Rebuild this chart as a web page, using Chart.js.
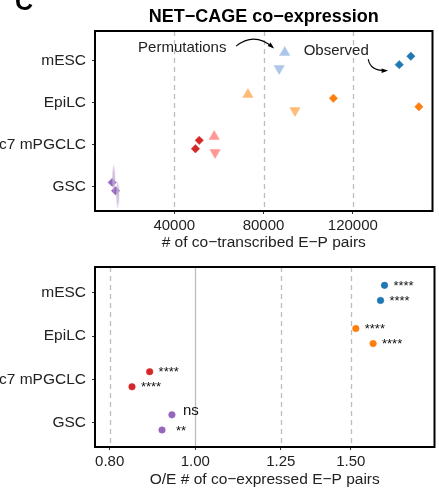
<!DOCTYPE html>
<html lang="en">
<head>
<meta charset="UTF-8">
<title>NET-CAGE co-expression</title>
<script src="https://cdn.jsdelivr.net/npm/chart.js"></script>
<style>
    body {
        margin: 0;
        background: #fff;
        font-family: "Liberation Sans", Arial, sans-serif;
    }
    .panel {
        position: absolute;
        left: 0;
        width: 439px;
    }
    #top { top: 0; height: 250px; }
    #bottom { top: 250px; height: 241px; }
</style>
</head>
<body>
<div class="panel" id="top"><canvas id="countChart"></canvas></div>
<div class="panel" id="bottom"><canvas id="ratioChart"></canvas></div>
<script>
    const categories = ['mESC', 'EpiLC', 'c7 mPGCLC', 'GSC'];
    // co-transcribed pairs, two replicates each
    const observedRep1 = [146000, 111300, 51200, 12200];
    const observedRep2 = [140800, 149600, 49500, 13700];
    const permRep1 = [89500, 73000, 57900, 12900];
    const permRep2 = [87000, 94100, 58300, 14700];
    const countTicks = [40000, 80000, 120000];
    // observed / expected
    const ratioRep1 = [1.638, 1.520, 0.888, 0.941];
    const ratioRep2 = [1.621, 1.590, 0.848, 0.917];
    const sigRep1 = ['****', '****', '****', 'ns'];
    const sigRep2 = ['****', '****', '****', '**'];
    const ratioTicks = [0.80, 1.00, 1.25, 1.50];

    const dark = ['#1f77b4', '#ff7f0e', '#d62728', '#9467bd'];
    const light = ['#aec7e8', '#ffbb78', '#ff9896', '#c5b0d5'];
    const FONT = '"Liberation Sans", Arial, sans-serif';

    Chart.defaults.font.family = FONT;
    Chart.defaults.color = '#222';

    // thin violin used for the GSC permutations
    function makeSpindle(color) {
        const c = document.createElement('canvas');
        c.width = 5; c.height = 28;
        const g = c.getContext('2d');
        g.fillStyle = color;
        g.globalAlpha = 0.8;
        g.beginPath();
        g.moveTo(2.5, 0);
        g.quadraticCurveTo(5.5, 14, 2.5, 28);
        g.quadraticCurveTo(-0.5, 14, 2.5, 0);
        g.fill();
        return c;
    }
    const spindle = makeSpindle(light[3]);

    function rows(values, shift) {
        return values.map((v, i) => ({ x: v, y: i + 1 + shift }));
    }

    function yAxis(min, max) {
        return {
            type: 'linear',
            reverse: true,
            min: min,
            max: max,
            afterBuildTicks: s => { s.ticks = categories.map((c, i) => ({ value: i + 1 })); },
            afterFit: s => { s.width = 95; },
            ticks: { callback: v => categories[v - 1], font: { size: 15.5 }, padding: 6, color: '#222' },
            grid: { drawOnChartArea: false, tickLength: 3, tickColor: '#333' },
            border: { display: false }
        };
    }

    const frame = {
        id: 'frame',
        beforeDatasetsDraw(chart) {
            const { ctx, chartArea: a, scales: { x } } = chart;
            ctx.save();
            ctx.strokeStyle = '#bdbdbd';
            ctx.lineWidth = 1.3;
            x.ticks.forEach(t => {
                const px = Math.round(x.getPixelForValue(t.value)) + 0.5;
                ctx.setLineDash(t.value === 1 ? [] : [5, 4]);
                ctx.beginPath();
                ctx.moveTo(px, a.top);
                ctx.lineTo(px, a.bottom);
                ctx.stroke();
            });
            ctx.restore();
        },
        afterDraw(chart) {
            const { ctx, chartArea: a } = chart;
            ctx.save();
            ctx.strokeStyle = '#000';
            ctx.lineWidth = 2;
            ctx.strokeRect(a.left, a.top, a.right - a.left, a.bottom - a.top);
            ctx.restore();
        }
    };

    function arrow(ctx, p0, c, p1) {
        ctx.beginPath();
        ctx.moveTo(p0[0], p0[1]);
        ctx.quadraticCurveTo(c[0], c[1], p1[0], p1[1]);
        ctx.stroke();
        const ang = Math.atan2(p1[1] - c[1], p1[0] - c[0]);
        ctx.beginPath();
        ctx.moveTo(p1[0] + 2 * Math.cos(ang), p1[1] + 2 * Math.sin(ang));
        ctx.lineTo(p1[0] - 5 * Math.cos(ang - 0.45), p1[1] - 5 * Math.sin(ang - 0.45));
        ctx.lineTo(p1[0] - 5 * Math.cos(ang + 0.45), p1[1] - 5 * Math.sin(ang + 0.45));
        ctx.closePath();
        ctx.fill();
    }

    const notes = {
        id: 'notes',
        afterDraw(chart) {
            const { ctx, chartArea: a, scales: { x, y } } = chart;
            const P = (vx, vy) => [x.getPixelForValue(vx), y.getPixelForValue(vy)];
            ctx.save();
            ctx.fillStyle = '#000';
            ctx.textAlign = 'left';
            ctx.textBaseline = 'alphabetic';
            ctx.font = 'bold 25px ' + FONT;
            ctx.fillText('C', 15, 10);
            ctx.textAlign = 'center';
            ctx.textBaseline = 'middle';
            ctx.font = 'bold 18px ' + FONT;
            ctx.fillText('NET\u2212CAGE co\u2212expression', (a.left + a.right) / 2, 17);
            ctx.font = '15px ' + FONT;
            ctx.fillStyle = '#222';
            let p = P(43600, 0.70);
            ctx.fillText('Permutations', p[0], p[1]);
            p = P(112560, 0.77);
            ctx.fillText('Observed', p[0], p[1]);
            ctx.strokeStyle = '#000';
            ctx.fillStyle = '#000';
            ctx.lineWidth = 1.1;
            arrow(ctx, P(67700, 0.66), P(75880, 0.315), P(84050, 0.684));
            arrow(ctx, P(126900, 0.97), P(127800, 1.254), P(134900, 1.242));
            ctx.restore();
        }
    };

    new Chart(document.getElementById('countChart'), {
        type: 'scatter',
        data: {
            datasets: [
                {
                    label: 'Permutations rep1',
                    data: rows(permRep1, -0.19),
                    pointStyle: c => c.dataIndex === 3 ? spindle : 'triangle',
                    rotation: 0,
                    pointRadius: 6,
                    backgroundColor: light,
                    borderColor: light,
                    borderWidth: 0.5
                },
                {
                    label: 'Permutations rep2',
                    data: rows(permRep2, 0.19),
                    pointStyle: c => c.dataIndex === 3 ? spindle : 'triangle',
                    rotation: 180,
                    pointRadius: 6,
                    backgroundColor: light,
                    borderColor: light,
                    borderWidth: 0.5
                },
                {
                    label: 'Observed rep1',
                    data: rows(observedRep1, -0.1),
                    pointStyle: 'rectRot',
                    pointRadius: 4.2,
                    backgroundColor: dark,
                    borderColor: dark,
                    borderWidth: 0.5
                },
                {
                    label: 'Observed rep2',
                    data: rows(observedRep2, 0.1),
                    pointStyle: 'rectRot',
                    pointRadius: 4.2,
                    backgroundColor: dark,
                    borderColor: dark,
                    borderWidth: 0.5
                }
            ]
        },
        options: {
            responsive: true,
            maintainAspectRatio: false,
            animation: false,
            layout: { padding: { top: 31, right: 2, left: 0, bottom: 0 } },
            plugins: { legend: { display: false }, tooltip: { enabled: false } },
            scales: {
                x: {
                    type: 'linear',
                    min: 4500,
                    max: 155700,
                    afterBuildTicks: s => { s.ticks = countTicks.map(v => ({ value: v })); },
                    afterFit: s => { s.height = 39; },
                    ticks: { callback: v => String(v), font: { size: 15 }, padding: 3, color: '#222' },
                    grid: { drawOnChartArea: false, tickLength: 3, tickColor: '#333' },
                    border: { display: false },
                    title: {
                        display: true,
                        text: '# of co\u2212transcribed E\u2212P pairs',
                        font: { size: 15.5, lineHeight: 1 },
                        color: '#222',
                        padding: { top: 0, bottom: 0 }
                    }
                },
                y: yAxis(0.30, 4.58)
            }
        },
        plugins: [frame, notes]
    });

    const stars = {
        id: 'stars',
        afterDatasetsDraw(chart) {
            const { ctx } = chart;
            ctx.save();
            ctx.fillStyle = '#111';
            ctx.textAlign = 'center';
            ctx.textBaseline = 'middle';
            chart.data.datasets.forEach((ds, di) => {
                chart.getDatasetMeta(di).data.forEach((pt, i) => {
                    const s = ds.sig[i];
                    if (s === 'ns') {
                        ctx.font = '15px ' + FONT;
                        ctx.fillText(s, pt.x + 19, pt.y - 4);
                    } else {
                        ctx.font = '13px ' + FONT;
                        ctx.fillText(s, pt.x + 19, pt.y + 1);
                    }
                });
            });
            ctx.restore();
        }
    };

    new Chart(document.getElementById('ratioChart'), {
        type: 'scatter',
        data: {
            datasets: [
                {
                    label: 'rep1',
                    data: rows(ratioRep1, -0.175),
                    sig: sigRep1,
                    pointRadius: 3.3,
                    backgroundColor: dark,
                    borderColor: dark,
                    borderWidth: 0.5
                },
                {
                    label: 'rep2',
                    data: rows(ratioRep2, 0.175),
                    sig: sigRep2,
                    pointRadius: 3.3,
                    backgroundColor: dark,
                    borderColor: dark,
                    borderWidth: 0.5
                }
            ]
        },
        options: {
            responsive: true,
            maintainAspectRatio: false,
            animation: false,
            layout: { padding: { top: 17, right: 2, left: 0, bottom: 0 } },
            plugins: { legend: { display: false }, tooltip: { enabled: false } },
            scales: {
                x: {
                    type: 'logarithmic',
                    min: 0.770,
                    max: 1.866,
                    afterBuildTicks: s => { s.ticks = ratioTicks.map(v => ({ value: v })); },
                    afterFit: s => { s.height = 44; },
                    ticks: { callback: v => Number(v).toFixed(2), font: { size: 15 }, padding: 3, color: '#222' },
                    grid: { drawOnChartArea: false, tickLength: 3, tickColor: '#333' },
                    border: { display: false },
                    title: {
                        display: true,
                        text: 'O/E # of co\u2212expressed E\u2212P pairs',
                        font: { size: 15.5, lineHeight: 1 },
                        color: '#222',
                        padding: { top: 0, bottom: 4 }
                    }
                },
                y: yAxis(0.40, 4.57)
            }
        },
        plugins: [frame, stars]
    });
</script>
</body>
</html>
